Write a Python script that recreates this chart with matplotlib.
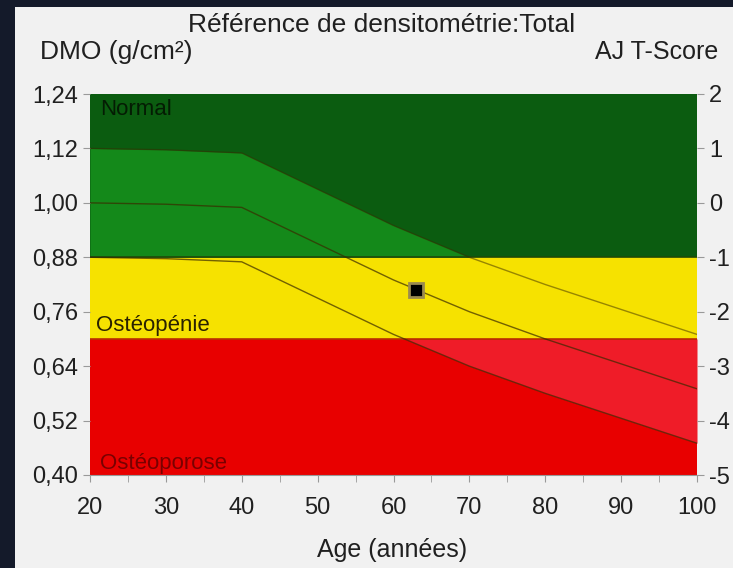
import matplotlib.pyplot as plt
import matplotlib.patches as mpatches
import numpy as np

plt.rcParams['font.family'] = ['Liberation Sans', 'DejaVu Sans']
plt.rcParams['axes.unicode_minus'] = False

# reference curve (mean), +/- 1 SD = 0.12 g/cm2
ages = [20, 30, 40, 50, 60, 70, 80, 90, 100]
mean_bmd = [1.00, 0.997, 0.99, 0.91, 0.83, 0.76, 0.70, 0.645, 0.59]
sd = 0.12

# patient measurement
patient_age = 63
patient_bmd = 0.808

bmd_ticks = [0.40, 0.52, 0.64, 0.76, 0.88, 1.00, 1.12, 1.24]
tscore_ticks = [2, 1, 0, -1, -2, -3, -4, -5]
age_ticks = [20, 30, 40, 50, 60, 70, 80, 90, 100]

# zone limits
osteopenie_top = 0.88
osteoporose_top = 0.70

x = np.array(ages)
mean = np.array(mean_bmd)
upper = mean + sd
lower = mean - sd

fig = plt.figure(figsize=(7.33, 5.68), dpi=100)
fig.patch.set_facecolor('#141a2a')
# light page of the photo, dark frame on the left and top
fig.patches.append(mpatches.Rectangle((15 / 733, 0), 1, (568 - 7) / 568,
                                      transform=fig.transFigure, facecolor='#f1f1f1',
                                      edgecolor='none', zorder=-10))

ax = fig.add_axes([90 / 733, (568 - 475) / 568, (697 - 90) / 733, (475 - 94) / 568])
ax.set_zorder(2)
ax.set_xlim(20, 100)
ax.set_ylim(0.40, 1.24)

# background zones
ax.axhspan(osteopenie_top, 1.24, color='#0b5c10', lw=0)
ax.axhspan(osteoporose_top, osteopenie_top, color='#f6e200', lw=0)
ax.axhspan(0.40, osteoporose_top, color='#e80000', lw=0)

# lighter shade between -1 SD and +1 SD
zones = [(osteopenie_top, 1.24, '#14891a'), (0.40, osteoporose_top, '#ef1c28')]
xf = np.linspace(20, 100, 400)
up_f = np.interp(xf, x, upper)
lo_f = np.interp(xf, x, lower)
for lo, hi, c in zones:
    a = np.clip(lo_f, lo, hi)
    b = np.clip(up_f, lo, hi)
    ax.fill_between(xf, a, b, where=b > a, color=c, lw=0)

ax.axhline(osteopenie_top, color='#1f4a08', lw=1.2)
ax.axhline(osteoporose_top, color='#b83000', lw=1.2)

ax.plot(x, mean, color='#3a2a00', lw=1, alpha=0.7)
ax.plot(x, lower, color='#3a2a00', lw=1, alpha=0.7)
ax.plot(x, upper, color='#3a2a00', lw=1, alpha=0.5)

ax.plot(patient_age, patient_bmd, 's', ms=10, mfc='black', mec='#9a8a50', mew=2, zorder=5)

ax.text(21.3, 1.228, 'Normal', color='#041c03', fontsize=16, va='top', ha='left')
ax.text(20.8, 0.706, 'Ostéopénie', color='#2a2200', fontsize=16, va='bottom', ha='left')
ax.text(21.3, 0.402, 'Ostéoporose', color='#7a0000', fontsize=16, va='bottom', ha='left')

for s in ax.spines.values():
    s.set_visible(False)
ax.spines['bottom'].set_visible(True)
ax.spines['bottom'].set_color('#999999')

ax.set_yticks(bmd_ticks)
ax.set_yticklabels([f'{v:.2f}'.replace('.', ',') for v in bmd_ticks])
ax.set_xticks(age_ticks)
ax.set_xticks(np.arange(25, 100, 10), minor=True)
ax.tick_params(axis='both', labelsize=17, colors='#999999', labelcolor='#202020', length=5)
ax.tick_params(axis='x', which='minor', length=5, colors='#999999')
ax.tick_params(axis='x', pad=11)

ax2 = ax.twinx()
ax2.set_ylim(-5, 2)
ax2.set_yticks(tscore_ticks)
ax2.set_yticklabels([str(t) for t in tscore_ticks])
ax2.tick_params(axis='y', labelsize=17, colors='#999999', labelcolor='#202020', length=5)
for s in ax2.spines.values():
    s.set_visible(False)

fig.text(0.52, 0.956, 'Référence de densitométrie:Total', ha='center', va='center',
         fontsize=19, color='#202020')
fig.text(0.055, 0.908, 'DMO (g/cm²)', ha='left', va='center', fontsize=19, color='#202020')
fig.text(0.98, 0.908, 'AJ T-Score', ha='right', va='center', fontsize=18, color='#202020')
fig.text(0.535, 0.032, 'Age (années)', ha='center', va='center', fontsize=18, color='#202020')

fig.savefig('out.png', dpi=100, facecolor=fig.get_facecolor())
